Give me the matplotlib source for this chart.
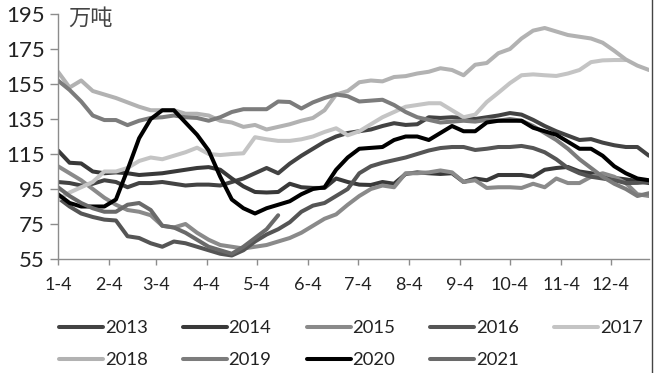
import numpy as np
import pandas as pd
import matplotlib
matplotlib.use("Agg")
import matplotlib.pyplot as plt
from matplotlib.lines import Line2D

nan = np.nan

# weekly points, Jan 4 .. Dec 27
weeks = pd.date_range("2021-01-04", periods=52, freq="7D")
tick_dates = pd.date_range("2021-01-01", periods=12, freq="MS") + pd.Timedelta(days=3)
tick_labels = ["1-4", "2-4", "3-4", "4-4", "5-4", "6-4",
               "7-4", "8-4", "9-4", "10-4", "11-4", "12-4"]

years = ["2013", "2014", "2015", "2016", "2017", "2018", "2019", "2020", "2021"]

v2013 = [99, 98.4, 97, 98, 100, 99, 96, 98.4, 98.4, 99,
         98, 97, 97.5, 97.5, 97, 99, 101, 104, 107, 104,
         109.5, 114, 118, 122, 125, 127, 128, 129, 131, 132.6,
         131.6, 132, 136, 135.6, 136, 135.6, 135, 136, 137, 138.4,
         137.5, 134.5, 131, 128, 125.5, 123, 123.5, 121.5, 120, 119,
         119, 114]
v2014 = [117, 110, 109.6, 105, 104, 104.5, 104, 103, 103.5, 104,
         105, 106, 107, 107.5, 106, 101, 96.5, 93.3, 93, 93.3,
         98, 96, 95.6, 95.6, 101, 99, 97.5, 97.3, 99, 98,
         103.6, 104.5, 104, 103.6, 104, 99, 101, 100, 103, 103,
         103, 102, 106, 107, 107.6, 105, 104, 103, 101.3, 100.5,
         99.5, 98.4]
v2015 = [108, 104, 100, 95, 90, 86, 83, 82, 80, 74,
         73, 75, 70, 66, 63, 62, 61, 62, 63, 65,
         67, 70, 74, 78, 80.5, 86, 91, 95, 97, 96,
         104, 104, 104.5, 105.6, 104.5, 99, 100, 95.6, 96, 96,
         95.6, 98, 96, 101, 98.4, 98.4, 102, 104, 102, 98.4,
         92, 91]
v2016 = [90, 85, 81, 79, 77.5, 77, 68, 67, 64, 62,
         65, 64, 62, 60, 58, 57, 60, 65, 69, 72,
         76, 82, 85.5, 87, 91, 95, 104, 108, 110, 111.5,
         113, 115, 117, 118.4, 119, 119, 117.3, 118, 119, 119,
         119.6, 118.4, 116, 112, 107, 104, 102, 101, 100, 98.4,
         98.5, 99]
v2017 = [89, 93, 96, 99, 105, 105, 107, 111, 113, 112,
         114, 116, 118.6, 115, 114.4, 115, 115.4, 124.6, 123.4, 122.5,
         122.5, 123.4, 125, 127.6, 129.7, 125.7, 128, 132, 136, 139,
         142, 143, 144, 144, 140, 136, 137.5, 144.7, 150, 155.5,
         160, 160.5, 160, 159.6, 161, 163, 167.5, 168.5, 168.7, 168.7,
         nan, nan]
v2018 = [162, 153, 157, 151, 149, 147, 144.5, 142, 140, 140,
         140, 138, 138, 137, 134, 133, 130.5, 131.6, 129, 130.5,
         132, 134, 135.6, 140, 149, 151, 156, 157, 156.5, 159,
         159.5, 161, 162, 164, 163, 160, 166, 167, 172.6, 175,
         181, 185.5, 187, 185, 183, 182, 181, 178.6, 174, 169,
         165.5, 163]
v2019 = [157, 151.6, 145, 137, 134.4, 134.4, 131.5, 134, 135.6, 136,
         137, 136, 135.6, 134, 136, 139, 140.6, 140.6, 140.6, 145,
         144.7, 141, 144.5, 147, 149, 148, 145, 145.5, 146, 143,
         139, 136, 134.5, 133, 133.5, 134, 133.5, 134.5, 134, 135,
         134, 131, 127, 123, 118, 112, 107, 102, 98, 95,
         91, 92.6]
v2020 = [92, 87, 85, 85, 85, 89, 106, 124, 135, 140,
         140, 133, 126, 117, 102, 89, 84, 81, 84, 86,
         88, 92, 95, 96, 106, 113, 118, 118.5, 119, 123,
         125, 125, 123, 127, 131, 128, 128, 133, 134, 134,
         134, 130, 128, 126, 122, 118, 118, 114, 108, 104,
         101, 100]
v2021 = [96, 91, 87, 84, 82, 82, 86, 87, 83, 74,
         73, 70, 66, 62, 60, 58, 62, 67, 72, 80] + [nan] * 32

series = [v2013, v2014, v2015, v2016, v2017, v2018, v2019, v2020, v2021]
colors = ["#434343", "#393939", "#8a8a8a", "#555555", "#c4c4c4",
          "#b2b2b2", "#7c7c7c", "#000000", "#6a6a6a"]

plt.rcParams["font.family"] = ["Lato", "DejaVu Sans"]

fig = plt.figure(figsize=(6.56, 3.73), dpi=100)
ax = fig.add_axes([58 / 656, 1 - 259 / 373, 591 / 656, 245 / 373])

for yr, vals, c in zip(years, series, colors):
    ax.plot(weeks, np.array(vals, dtype=float), color=c, lw=2.9,
            solid_joinstyle="round", solid_capstyle="round", label=yr)

ax.set_xlim(weeks[0], weeks[-1])
ax.set_ylim(55, 195)
ax.set_yticks(np.arange(55, 196, 20))
ax.set_xticks(tick_dates)
ax.set_xticklabels(tick_labels)

for s in ["top", "right"]:
    ax.spines[s].set_visible(False)
for s in ["left", "bottom"]:
    ax.spines[s].set_color("#8c8c8c")
    ax.spines[s].set_linewidth(1.0)

ax.tick_params(axis="y", direction="out", length=5.8, width=1, color="#8c8c8c",
               labelsize=16, labelcolor="#222222", pad=3.6)
ax.tick_params(axis="x", direction="out", length=4.3, width=1, color="#8c8c8c",
               labelsize=13, labelcolor="#222222", pad=8.5)

fig.text(68 / 656, 1 - 18 / 373, "万吨", fontsize=16, color="#444444",
         family=["Noto Sans CJK SC", "DejaVu Sans"], va="center", ha="left")

# legend, filled column by column -> reorder so rows read 2013..2017 / 2018..2021
order = [0, 5, 1, 6, 2, 7, 3, 8, 4]
handles = [Line2D([], [], color=colors[i], lw=2.9, solid_capstyle="round") for i in order]
fig.legend(handles, [years[i] for i in order], ncol=5, loc="upper left",
           bbox_to_anchor=(59 / 656, 1 - 320 / 373), frameon=False,
           fontsize=13.3, handlelength=2.38, handletextpad=0.1,
           columnspacing=1.9, borderpad=0, borderaxespad=0, labelspacing=0.88,
           labelcolor="#222222")

fig.add_artist(Line2D([651.5 / 656] * 2, [0, 1], color="#444444", lw=1.0))

fig.savefig("out.png", dpi=100)
